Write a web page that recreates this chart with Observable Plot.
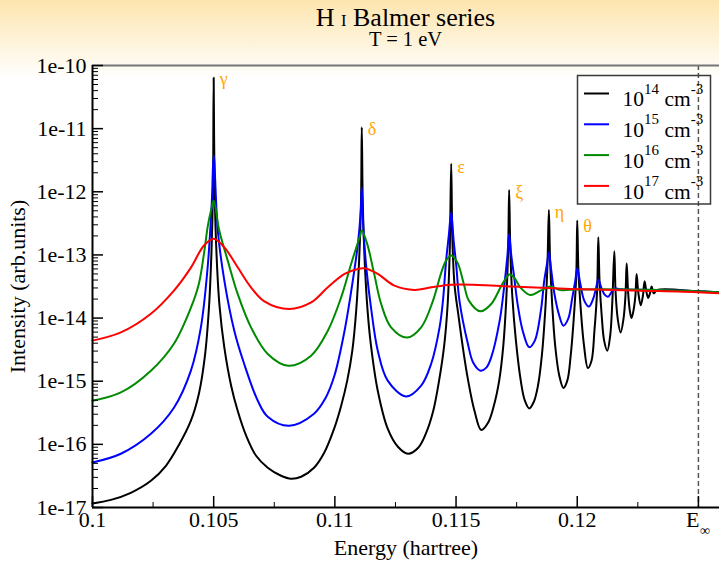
<!DOCTYPE html>
<html>
<head>
<meta charset="utf-8">
<script src="https://cdn.jsdelivr.net/npm/d3@7"></script>
<script src="https://cdn.jsdelivr.net/npm/@observablehq/plot@0.6"></script>
<style>
  html, body { margin: 0; padding: 0; background: #fff; }
  #wrap { position: relative; width: 719px; height: 561px; overflow: hidden;
          background: linear-gradient(180deg, #fde5ae 0px, #fef2d6 38px, #ffffff 78px);
          font-family: "Liberation Serif", "Times New Roman", serif; color: #000; }
  #title { position: absolute; left: 92px; width: 627px; top: 6px; text-align: center;
           font-size: 26px; line-height: 0.9; white-space: nowrap; }
  #title .sc { font-size: 16.5px; }
  #sub { position: absolute; left: 92px; width: 627px; top: 30.5px; text-align: center;
         font-size: 20.5px; line-height: 0.8; white-space: nowrap; }
  #chart { position: absolute; left: 0; top: 0; }
</style>
</head>
<body>
<div id="wrap">
  <div id="chart"></div>
  <div id="title">H&nbsp;<span class="sc">I</span>&nbsp;Balmer series</div>
  <div id="sub">T = 1 eV</div>
</div>
<script>
// ---------- data ----------
const seriesNames = ["1e14", "1e15", "1e16", "1e17"];
const seriesColors = ["#000000", "#0000ff", "#008a00", "#ff0000"];
const legendExp = ["14", "15", "16", "17"];

const blackE = [0.1, 0.10076, 0.10158, 0.10241, 0.10303, 0.10357, 0.10406, 0.10439, 0.10464, 0.10481, 0.10491, 0.10497, 0.105,
  0.10504, 0.10512, 0.10524, 0.10544, 0.10572, 0.10599, 0.10634, 0.10675, 0.10723, 0.10778, 0.10819, 0.10861, 0.10914, 0.10956, 0.10997, 0.11026, 0.11051, 0.11072, 0.11088, 0.11100, 0.11108, 0.11111,
  0.11115, 0.11123, 0.11135, 0.11149, 0.11177, 0.11218, 0.11260, 0.11302, 0.11344, 0.11377, 0.11406, 0.11430, 0.11451, 0.11465, 0.11474, 0.11480,
  0.11485, 0.11494, 0.11510, 0.11530, 0.11550, 0.11576, 0.11604, 0.11632, 0.11656, 0.11678, 0.11695, 0.11707, 0.11715, 0.11719,
  0.11724, 0.11732, 0.11747, 0.11767, 0.11784, 0.11802, 0.11821, 0.11838, 0.11854, 0.11868, 0.11877, 0.11883,
  0.11888, 0.11897, 0.11909, 0.11926, 0.11943, 0.11959, 0.11973, 0.11985, 0.11996, 0.12,
  0.12005, 0.12015, 0.12028, 0.12044, 0.12059, 0.12071, 0.12082, 0.12087,
  0.12092, 0.12101, 0.12111, 0.12124, 0.12136, 0.12145, 0.12153,
  0.12158, 0.12167, 0.12179, 0.12191, 0.12199, 0.12204,
  0.12210, 0.12217, 0.12224, 0.12232, 0.12240, 0.12245,
  0.12252, 0.12262, 0.12271, 0.12278,
  0.12286, 0.12293, 0.12301, 0.12307, 0.12316, 0.12330, 0.12501, 0.12587];
const blackI = [1.16e-17, 1.32e-17, 1.71e-17, 2.65e-17, 4.58e-17, 9.86e-17, 2.37e-16, 6.34e-16, 2.54e-15, 1.57e-14, 1.17e-13, 1.04e-12, 6.38e-11,
  1.04e-12, 9.75e-14, 1.57e-14, 3.40e-15, 8.49e-16, 3.40e-16, 1.37e-16, 6.59e-17, 4.26e-17, 3.18e-17, 2.85e-17, 3.07e-17, 4.26e-17, 7.36e-17, 1.77e-16, 4.09e-16, 1.02e-15, 3.04e-15, 1.31e-14, 8.13e-14, 7.26e-13, 1.05e-11,
  7.26e-13, 8.13e-14, 1.31e-14, 3.66e-15, 7.06e-16, 1.77e-16, 9.16e-17, 7.10e-17, 8.83e-17, 1.53e-16, 3.40e-16, 1.02e-15, 3.66e-15, 1.57e-14, 1.17e-13, 2.77e-12,
  1.69e-13, 3.26e-14, 1.09e-14, 3.04e-15, 1.02e-15, 3.40e-16, 1.69e-16, 2.20e-16, 4.09e-16, 1.02e-15, 3.66e-15, 1.89e-14, 1.17e-13, 1.07e-12,
  1.17e-13, 2.26e-14, 4.39e-15, 1.02e-15, 4.91e-16, 3.71e-16, 4.73e-16, 8.49e-16, 2.54e-15, 1.31e-14, 6.76e-14, 5.16e-13,
  8.13e-14, 1.57e-14, 3.66e-15, 1.22e-15, 7.8e-16, 1.02e-15, 2.54e-15, 9.10e-15, 4.70e-14, 3.5e-13,
  5.64e-14, 1.31e-14, 3.66e-15, 1.62e-15, 2.11e-15, 6.31e-15, 2.72e-14, 1.9e-13,
  3.92e-14, 1.09e-14, 4.39e-15, 3.04e-15, 5.26e-15, 1.89e-14, 1.14e-13,
  2.72e-14, 9.77e-15, 5.93e-15, 9.77e-15, 2.26e-14, 7.36e-14,
  2.53e-14, 1.31e-14, 1.0e-14, 1.31e-14, 2.26e-14, 5.0e-14,
  2.53e-14, 1.6e-14, 2.26e-14, 3.82e-14,
  2.53e-14, 2.08e-14, 2.53e-14, 3.15e-14, 2.46e-14, 2.79e-14, 2.65e-14, 2.55e-14];

const blueE = [0.1, 0.10117, 0.10241, 0.10336, 0.10406, 0.10447, 0.10475, 0.10492, 0.105,
  0.10517, 0.10544, 0.10585, 0.10626, 0.10682, 0.10723, 0.10811, 0.10914, 0.10960, 0.10998, 0.11040, 0.11074, 0.11095, 0.11107, 0.11111,
  0.11118, 0.11131, 0.11149, 0.11177, 0.11218, 0.11294, 0.11356, 0.11397, 0.11432, 0.11446, 0.11459, 0.11470, 0.11480,
  0.11490, 0.11501, 0.11514, 0.11549, 0.11571, 0.11601, 0.11625, 0.11645, 0.11680, 0.11699, 0.11712, 0.11719,
  0.11728, 0.11739, 0.11755, 0.11775, 0.11802, 0.11825, 0.11850, 0.11864, 0.11876, 0.11883,
  0.11892, 0.11906, 0.11926, 0.11943, 0.11963, 0.11979, 0.11992, 0.12,
  0.12012, 0.12029, 0.12048, 0.12066, 0.12078, 0.12087, 0.12101, 0.12113, 0.12127, 0.12140, 0.12153, 0.12179, 0.12330, 0.12501, 0.12587];
const blueI = [5.16e-17, 7.10e-17, 1.47e-16, 3.80e-16, 1.47e-15, 7.05e-15, 6.30e-14, 6.50e-13, 3.75e-12,
  2.43e-13, 3.92e-14, 6.31e-15, 1.87e-15, 4.91e-16, 2.74e-16, 1.97e-16, 3.05e-16, 5.28e-16, 1.22e-15, 6.31e-15, 3.92e-14, 1.49e-13, 5.04e-13, 1.18e-12,
  2.43e-13, 5.64e-14, 1.48e-14, 3.04e-15, 1.02e-15, 5.74e-16, 8.49e-16, 1.87e-15, 7.13e-15, 1.89e-14, 8.13e-14, 2.02e-13, 4.73e-13,
  1.69e-13, 6.76e-14, 1.89e-14, 3.89e-15, 1.96e-15, 1.47e-15, 1.64e-15, 2.38e-15, 9.10e-15, 3.26e-14, 9.75e-14, 2.15e-13,
  9.75e-14, 4.70e-14, 1.57e-14, 6.31e-15, 3.44e-15, 4.39e-15, 1.31e-14, 3.92e-14, 7.55e-14, 1.1e-13,
  6.07e-14, 2.41e-14, 1.09e-14, 7.59e-15, 9.77e-15, 2.03e-14, 3.92e-14, 6.14e-14,
  3.64e-14, 1.89e-14, 1.52e-14, 2.03e-14, 3.03e-14, 4.02e-14, 2.92e-14, 2.35e-14, 2.18e-14, 2.53e-14, 2.96e-14, 2.85e-14, 2.79e-14, 2.65e-14, 2.55e-14];

const greenE = [0.1, 0.10117, 0.10241, 0.10336, 0.10406, 0.10439, 0.10460, 0.10476, 0.10489, 0.105,
  0.10523, 0.10558, 0.10599, 0.10654, 0.10723, 0.10808, 0.10902, 0.10971, 0.11026, 0.11067, 0.11102, 0.11111,
  0.11133, 0.11162, 0.11191, 0.11232, 0.11298, 0.11356, 0.11405, 0.11439, 0.11459, 0.11480,
  0.11506, 0.11532, 0.11553, 0.11601, 0.11645, 0.11687, 0.11708, 0.11719, 0.11740, 0.11765, 0.11806, 0.11848, 0.11889, 0.11930, 0.11972, 0.12330, 0.12501, 0.12587];
const greenI = [4.91e-16, 6.65e-16, 1.47e-15, 3.93e-15, 1.46e-14, 3.51e-14, 1.05e-13, 2.91e-13, 5.04e-13, 7.26e-13,
  2.43e-13, 8.13e-14, 2.41e-14, 7.13e-15, 2.70e-15, 1.76e-15, 2.54e-15, 6.31e-15, 2.13e-14, 7.19e-14, 1.90e-13, 2.43e-13,
  1.51e-13, 5.06e-14, 1.67e-14, 7.13e-15, 4.91e-15, 7.13e-15, 1.89e-14, 5.25e-14, 8.13e-14, 9.75e-14,
  7.55e-14, 3.47e-14, 1.89e-14, 1.28e-14, 1.67e-14, 3.26e-14, 4.37e-14, 4.88e-14, 4.37e-14, 3.07e-14, 2.32e-14, 2.72e-14, 3.15e-14, 2.77e-14, 2.82e-14, 2.79e-14, 2.65e-14, 2.55e-14];

const redE = [0.1, 0.10117, 0.10241, 0.10336, 0.10406, 0.10459, 0.105, 0.10544, 0.10599, 0.10654, 0.10709, 0.10812, 0.10902, 0.10971, 0.11040, 0.11095, 0.11122, 0.11177, 0.11246, 0.11329, 0.11398, 0.11480, 0.11591, 0.11728, 0.11972, 0.12266, 0.12501, 0.12587];
const redI = [4.39e-15, 5.93e-15, 1.17e-14, 2.72e-14, 6.30e-14, 1.40e-13, 1.81e-13, 1.32e-13, 6.37e-14, 3.07e-14, 1.84e-14, 1.39e-14, 1.77e-14, 3.07e-14, 5.0e-14, 6.0e-14, 6.14e-14, 5.0e-14, 3.26e-14, 2.79e-14, 3.07e-14, 3.38e-14, 3.35e-14, 3.15e-14, 2.89e-14, 2.72e-14, 2.57e-14, 2.46e-14];

const greekText = ["γ", "δ", "ε", "ξ", "η", "θ"];
const greekE = [0.105, 0.11111, 0.1148, 0.11719, 0.11883, 0.12];
const greekI = [6.0e-11, 9.7e-12, 2.42e-12, 1.0e-12, 4.68e-13, 2.8e-13];

const xTickValues = [0.1, 0.105, 0.11, 0.115, 0.12, 0.125];
const xTickLabels = ["0.1", "0.105", "0.11", "0.115", "0.12", "E∞"];
const xMinorTicks = [0.1025, 0.1075, 0.1125, 0.1175, 0.1225];
const limitE = 0.125;
const yTickValues = [1e-17, 1e-16, 1e-15, 1e-14, 1e-13, 1e-12, 1e-11, 1e-10];
const yTickLabels = ["1e-17", "1e-16", "1e-15", "1e-14", "1e-13", "1e-12", "1e-11", "1e-10"];
const xDomain = [0.1, 0.12587];
const yDomain = [1e-17, 1e-10];

// ---------- build ----------
const allE = [blackE, blueE, greenE, redE];
const allI = [blackI, blueI, greenI, redI];
const rows = [];
seriesNames.forEach((s, k) => allE[k].forEach((e, i) => rows.push({E: e, I: allI[k][i], series: s})));

const W = 719, H = 561, mT = 65, mB = 54, mL = 92, mR = 0;
const plotW = W - mL - mR, plotH = H - mT - mB;
const yMinor = d3.scaleLog().domain(yDomain).ticks().filter(v => !yTickValues.some(m => Math.abs(m - v) / m < 1e-6));

const chart = Plot.plot({
  width: W, height: H,
  marginTop: mT, marginBottom: mB, marginLeft: mL, marginRight: mR,
  style: {background: "transparent", fontFamily: '"Liberation Serif", "Times New Roman", serif', fontSize: "22px", color: "#000", overflow: "visible"},
  x: {domain: xDomain},
  y: {type: "log", domain: yDomain},
  color: {domain: seriesNames, range: seriesColors},
  marks: [
    Plot.ruleX([limitE], {stroke: "#555", strokeWidth: 1.5, strokeDasharray: "5,3"}),
    Plot.line(rows, {x: "E", y: "I", z: "series", stroke: "series", strokeWidth: 2, curve: "catmull-rom"}),
    Plot.text(greekText, {x: (d, i) => greekE[i], y: (d, i) => greekI[i], text: d => d, textAnchor: "start", lineAnchor: "middle", dx: 6, fill: "#ffa500", fontSize: 18}),
    Plot.ruleY([yDomain[1]], {stroke: "#777", strokeWidth: 2}),
    Plot.ruleY([yDomain[0]], {stroke: "#000", strokeWidth: 2}),
    Plot.ruleX([xDomain[0]], {stroke: "#000", strokeWidth: 2}),
    Plot.ruleY(yTickValues, {stroke: "#000", strokeWidth: 1.5, insetRight: plotW - 11}),
    Plot.ruleY(yMinor, {stroke: "#000", strokeWidth: 1, insetRight: plotW - 6}),
    Plot.ruleX(xTickValues, {stroke: "#000", strokeWidth: 1.5, insetTop: plotH - 11}),
    Plot.ruleX(xMinorTicks, {stroke: "#000", strokeWidth: 1, insetTop: plotH - 5}),
    Plot.axisY(yTickValues, {tickFormat: d => yTickLabels[yTickValues.indexOf(d)], tickSize: 0, tickPadding: 6,
      label: "Intensity (arb.units)", labelAnchor: "center", labelOffset: 83, labelArrow: "none"}),
    Plot.axisX(xTickValues.slice(0, 5), {tickFormat: d => xTickLabels[xTickValues.indexOf(d)], tickSize: 0, tickPadding: 4, label: null}),
    Plot.text([limitE], {x: d => d, frameAnchor: "bottom", text: () => xTickLabels[5].charAt(0), textAnchor: "end", lineAnchor: "top", dx: 1, dy: 4, fontSize: 22}),
    Plot.text([limitE], {x: d => d, frameAnchor: "bottom", text: () => xTickLabels[5].charAt(1), textAnchor: "start", lineAnchor: "top", dx: 1.5, dy: 18, fontSize: 14}),
    Plot.text(["Energy (hartree)"], {frameAnchor: "bottom", text: d => d, lineAnchor: "middle", dy: 40, fontSize: 22})
  ]
});
document.getElementById("chart").appendChild(chart);

// ---------- legend ----------
const leg = d3.select("#wrap").append("svg")
  .attr("width", W).attr("height", H)
  .style("position", "absolute").style("left", "0px").style("top", "0px")
  .style("pointer-events", "none")
  .style("font-family", '"Liberation Serif", "Times New Roman", serif');
leg.append("rect").attr("x", 577.5).attr("y", 75.5).attr("width", 133).attr("height", 128.5)
  .attr("fill", "none").attr("stroke", "#3a3a3a").attr("stroke-width", 1.5);
seriesNames.forEach((s, i) => {
  const yl = 93.5 + i * 30.8;
  leg.append("line").attr("x1", 584).attr("x2", 609).attr("y1", yl).attr("y2", yl)
    .attr("stroke", seriesColors[i]).attr("stroke-width", 2);
  const t = leg.append("text").attr("x", 622.5).attr("y", yl + 12.7).attr("font-size", 21.5).attr("fill", "#000");
  t.append("tspan").text("10");
  t.append("tspan").attr("font-size", 15).attr("dy", -12.7).text(legendExp[i]);
  t.append("tspan").attr("dy", 12.7).text("\u00a0cm");
  t.append("tspan").attr("font-size", 15).attr("dy", -12.7).text("-3");
});
</script>
</body>
</html>
